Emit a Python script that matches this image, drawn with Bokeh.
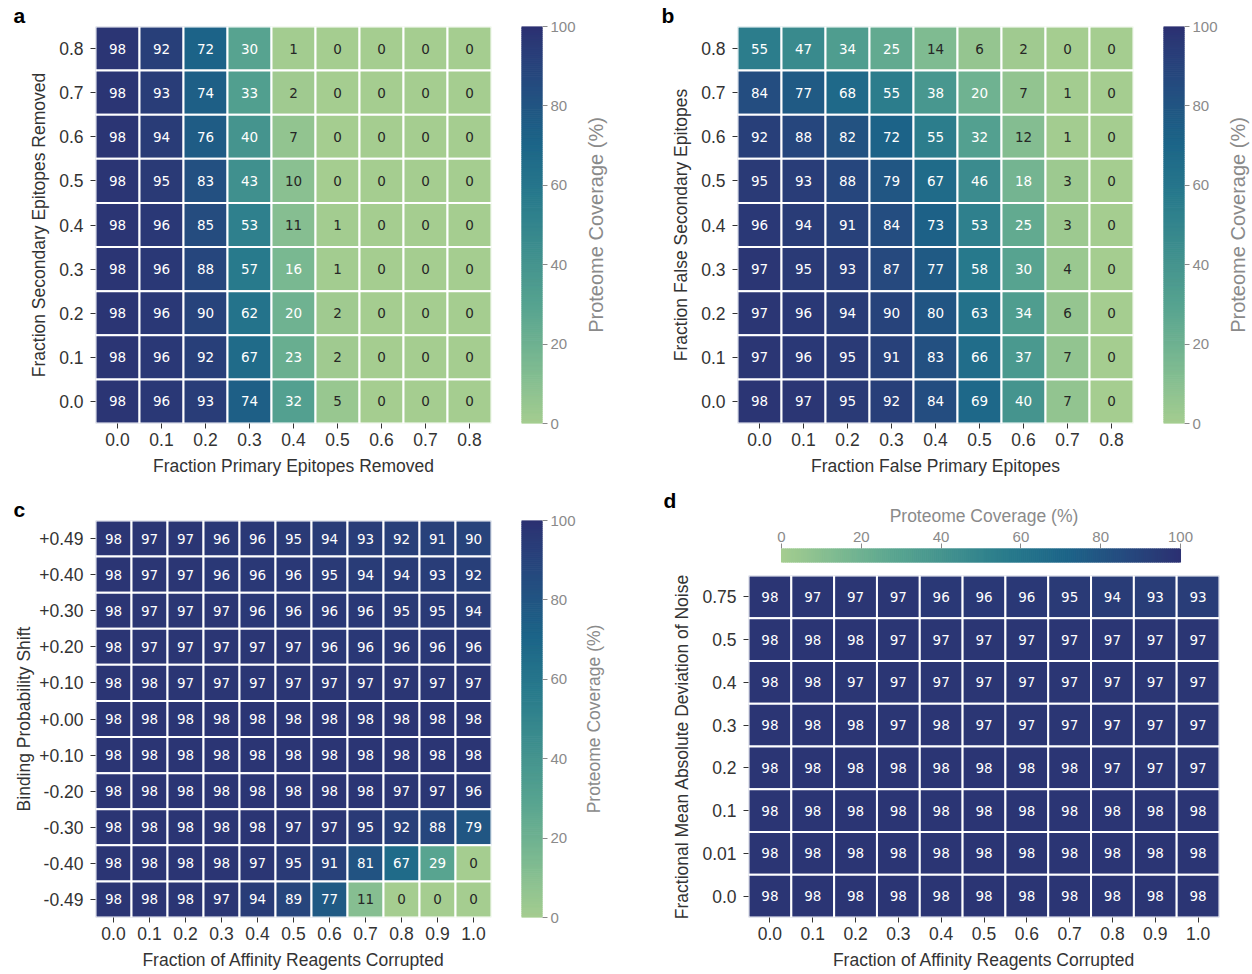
import numpy as np
from bokeh.core.properties import value
from bokeh.embed import file_html
from bokeh.layouts import column, row
from bokeh.models import ColumnDataSource, FixedTicker, LinearColorMapper
from bokeh.plotting import figure
from bokeh.resources import INLINE

# ---------------------------------------------------------------- data
A_X = ["0.0", "0.1", "0.2", "0.3", "0.4", "0.5", "0.6", "0.7", "0.8"]
A_Y = ["0.8", "0.7", "0.6", "0.5", "0.4", "0.3", "0.2", "0.1", "0.0"]  # top -> bottom
A_VALUES = [
    [98, 92, 72, 30, 1, 0, 0, 0, 0],
    [98, 93, 74, 33, 2, 0, 0, 0, 0],
    [98, 94, 76, 40, 7, 0, 0, 0, 0],
    [98, 95, 83, 43, 10, 0, 0, 0, 0],
    [98, 96, 85, 53, 11, 1, 0, 0, 0],
    [98, 96, 88, 57, 16, 1, 0, 0, 0],
    [98, 96, 90, 62, 20, 2, 0, 0, 0],
    [98, 96, 92, 67, 23, 2, 0, 0, 0],
    [98, 96, 93, 74, 32, 5, 0, 0, 0],
]

B_X = A_X
B_Y = A_Y
B_VALUES = [
    [55, 47, 34, 25, 14, 6, 2, 0, 0],
    [84, 77, 68, 55, 38, 20, 7, 1, 0],
    [92, 88, 82, 72, 55, 32, 12, 1, 0],
    [95, 93, 88, 79, 67, 46, 18, 3, 0],
    [96, 94, 91, 84, 73, 53, 25, 3, 0],
    [97, 95, 93, 87, 77, 58, 30, 4, 0],
    [97, 96, 94, 90, 80, 63, 34, 6, 0],
    [97, 96, 95, 91, 83, 66, 37, 7, 0],
    [98, 97, 95, 92, 84, 69, 40, 7, 0],
]

C_X = ["0.0", "0.1", "0.2", "0.3", "0.4", "0.5", "0.6", "0.7", "0.8", "0.9", "1.0"]
C_Y = ["+0.49", "+0.40", "+0.30", "+0.20", "+0.10", "+0.00",
       "+0.10", "-0.20", "-0.30", "-0.40", "-0.49"]
C_VALUES = [
    [98, 97, 97, 96, 96, 95, 94, 93, 92, 91, 90],
    [98, 97, 97, 96, 96, 96, 95, 94, 94, 93, 92],
    [98, 97, 97, 97, 96, 96, 96, 96, 95, 95, 94],
    [98, 97, 97, 97, 97, 97, 96, 96, 96, 96, 96],
    [98, 98, 97, 97, 97, 97, 97, 97, 97, 97, 97],
    [98, 98, 98, 98, 98, 98, 98, 98, 98, 98, 98],
    [98, 98, 98, 98, 98, 98, 98, 98, 98, 98, 98],
    [98, 98, 98, 98, 98, 98, 98, 98, 97, 97, 96],
    [98, 98, 98, 98, 98, 97, 97, 95, 92, 88, 79],
    [98, 98, 98, 98, 97, 95, 91, 81, 67, 29, 0],
    [98, 98, 98, 97, 94, 89, 77, 11, 0, 0, 0],
]

D_X = C_X
D_Y = ["0.75", "0.5", "0.4", "0.3", "0.2", "0.1", "0.01", "0.0"]
D_VALUES = [
    [98, 97, 97, 97, 96, 96, 96, 95, 94, 93, 93],
    [98, 98, 98, 97, 97, 97, 97, 97, 97, 97, 97],
    [98, 98, 97, 97, 97, 97, 97, 97, 97, 97, 97],
    [98, 98, 98, 97, 98, 97, 97, 97, 97, 97, 97],
    [98, 98, 98, 98, 98, 98, 98, 98, 97, 97, 97],
    [98, 98, 98, 98, 98, 98, 98, 98, 98, 98, 98],
    [98, 98, 98, 98, 98, 98, 98, 98, 98, 98, 98],
    [98, 98, 98, 98, 98, 98, 98, 98, 98, 98, 98],
]

CBAR_TICKS = [0, 20, 40, 60, 80, 100]
CBAR_LABEL = "Proteome Coverage (%)"

# ---------------------------------------------------------------- colours
CREST = ["#a5cd90", "#7dba91", "#59a590", "#40908e",
         "#287a8c", "#1c6488", "#254b7f", "#2c3172"]
TEXT = "#333333"
CB_GRAY = "#8a8a8a"
FONT = "Liberation Sans"


def _rgb(h):
    return tuple(int(h[i:i + 2], 16) for i in (1, 3, 5))


STOPS = [_rgb(h) for h in CREST]


def crest(t):
    t = min(max(t, 0.0), 1.0)
    pos = t * (len(STOPS) - 1)
    i = min(int(pos), len(STOPS) - 2)
    f = pos - i
    a, b = STOPS[i], STOPS[i + 1]
    return "#%02x%02x%02x" % tuple(round(a[k] + (b[k] - a[k]) * f) for k in range(3))


PALETTE = [crest(i / 255) for i in range(256)]
MAPPER = LinearColorMapper(palette=PALETTE, low=0, high=100)


def annot_color(v):
    def lin(c):
        c /= 255
        return c / 12.92 if c <= 0.03928 else ((c + 0.055) / 1.055) ** 2.4
    r, g, b = _rgb(crest(v / 100))
    lum = 0.2126 * lin(r) + 0.7152 * lin(g) + 0.0722 * lin(b)
    return "#262626" if lum > 0.408 else "#ffffff"


def style_axis(ax, tick_color=TEXT, label_color=TEXT, size="17.5px", title_size="17.5px"):
    ax.axis_line_color = None
    ax.major_tick_line_color = tick_color
    ax.major_tick_out = 5
    ax.major_tick_in = 0
    ax.minor_tick_line_color = None
    ax.major_label_text_font = FONT
    ax.major_label_text_font_size = size
    ax.major_label_text_color = label_color
    ax.axis_label_text_font = FONT
    ax.axis_label_text_font_style = "normal"
    ax.axis_label_text_font_size = title_size
    ax.axis_label_text_color = label_color


def panel_letter(p, letter, offset, standoff=0):
    p.title.text = letter
    p.title.align = "left"
    p.title.offset = offset
    p.title.standoff = standoff
    p.title.text_font = FONT
    p.title.text_font_style = "bold"
    p.title.text_font_size = "21px"
    p.title.text_color = "black"


def bare_figure(**kw):
    p = figure(toolbar_location=None, tools="", output_backend="svg", **kw)
    p.grid.visible = False
    p.outline_line_color = None
    p.background_fill_color = "white"
    p.border_fill_color = "white"
    return p


def heatmap(vals, xl, yl, xtitle, ytitle, frame_w, frame_h,
            left, right, top, bottom, ylabel_standoff):
    nr, nc = len(vals), len(vals[0])
    xs, ys, vs, ts, tcs = [], [], [], [], []
    for r, rv in enumerate(vals):
        for c, v in enumerate(rv):
            xs.append(c)
            ys.append(nr - 1 - r)
            vs.append(v)
            ts.append(str(v))
            tcs.append(annot_color(v))
    src = ColumnDataSource(dict(x=xs, y=ys, v=vs, t=ts, tc=tcs))

    p = bare_figure(frame_width=frame_w, frame_height=frame_h,
                    min_border_left=left, min_border_right=right,
                    min_border_top=top, min_border_bottom=bottom,
                    x_range=(-0.5, nc - 0.5), y_range=(-0.5, nr - 0.5))
    p.rect(x="x", y="y", width=1, height=1, source=src,
           fill_color={"field": "v", "transform": MAPPER},
           line_color="white", line_width=2)
    p.text(x="x", y="y", text="t", source=src, text_color="tc",
           text_align="center", text_baseline="middle",
           text_font=value("DejaVu Sans"), text_font_size="13.5px")

    p.xaxis.ticker = FixedTicker(ticks=list(range(nc)))
    p.xaxis.major_label_overrides = {i: s for i, s in enumerate(xl)}
    p.yaxis.ticker = FixedTicker(ticks=list(range(nr)))
    p.yaxis.major_label_overrides = {nr - 1 - i: s for i, s in enumerate(yl)}
    p.xaxis.axis_label = xtitle
    p.yaxis.axis_label = ytitle
    style_axis(p.xaxis[0])
    style_axis(p.yaxis[0])
    p.xaxis.major_label_standoff = 4
    p.xaxis.axis_label_standoff = 7
    p.yaxis.major_label_standoff = 7
    p.yaxis.axis_label_standoff = ylabel_standoff
    return p


def gradient_source():
    edges = np.linspace(0, 100, 201)
    mids = (edges[:-1] + edges[1:]) / 2
    return ColumnDataSource(dict(lo=edges[:-1], hi=edges[1:],
                                 c=[crest(m / 100) for m in mids]))


CB_RIGHT = 37   # room for the colour-bar tick labels


def vcolorbar(frame_h, top, bottom):
    """Vertical colour bar: gradient strip with its value axis on the right."""
    cb = bare_figure(frame_width=21, frame_height=frame_h,
                     min_border_left=0, min_border_right=CB_RIGHT,
                     min_border_top=top, min_border_bottom=bottom,
                     x_range=(0, 1), y_range=(0, 100),
                     x_axis_location=None, y_axis_location="right")
    cb.quad(left=0, right=1, bottom="lo", top="hi", source=gradient_source(),
            fill_color="c", line_color="c", line_width=1)
    ax = cb.yaxis[0]
    ax.ticker = FixedTicker(ticks=CBAR_TICKS)
    style_axis(ax, tick_color=CB_GRAY, label_color=CB_GRAY, size="15px")
    ax.major_label_standoff = 3
    return cb


def vcolorbar_title(frame_h, top, bottom, left, right, size, standoff=0):
    """Rotated colour-bar title, drawn as the label of an otherwise empty axis."""
    t = bare_figure(frame_width=1, frame_height=frame_h,
                    min_border_left=left, min_border_right=right,
                    min_border_top=top, min_border_bottom=bottom,
                    x_range=(0, 1), y_range=(0, 1), x_axis_location=None)
    ax = t.yaxis[0]
    ax.ticker = FixedTicker(ticks=[])
    style_axis(ax, tick_color=None, label_color=CB_GRAY, title_size=size)
    ax.major_tick_out = 0
    ax.major_label_standoff = 0
    ax.axis_label = CBAR_LABEL
    ax.axis_label_standoff = standoff
    return t


def hcolorbar(frame_w, left, right, top, bottom, x_lo, x_hi):
    cb = bare_figure(frame_width=frame_w, frame_height=14,
                     min_border_left=left, min_border_right=right,
                     min_border_top=top, min_border_bottom=bottom,
                     x_range=(x_lo, x_hi), y_range=(0, 1),
                     x_axis_location="above", y_axis_location=None)
    cb.quad(left="lo", right="hi", bottom=0, top=1, source=gradient_source(),
            fill_color="c", line_color="c", line_width=1)
    ax = cb.xaxis[0]
    ax.ticker = FixedTicker(ticks=CBAR_TICKS)
    ax.axis_label = CBAR_LABEL
    style_axis(ax, tick_color=CB_GRAY, label_color=CB_GRAY, size="15px")
    ax.major_label_standoff = 2
    ax.axis_label_standoff = 3
    return cb


# ---------------------------------------------------------------- panels
fa = heatmap(A_VALUES, A_X, A_Y, "Fraction Primary Epitopes Removed",
             "Fraction Secondary Epitopes Removed",
             396, 397, 95, 30, 26, 57, 7)
panel_letter(fa, "a", -82)
cba = vcolorbar(397, 26, 57)
ta = vcolorbar_title(397, 13, 70, 27, 33, "20px")

fb = heatmap(B_VALUES, B_X, B_Y, "Fraction False Primary Epitopes",
             "Fraction False Secondary Epitopes",
             396, 397, 97, 30, 26, 57, 7)
panel_letter(fb, "b", -76)
cbb = vcolorbar(397, 26, 57)
tb = vcolorbar_title(397, 13, 70, 27, 3, "20px")

fc = heatmap(C_VALUES, C_X, C_Y, "Fraction of Affinity Reagents Corrupted",
             "Binding Probability Shift",
             396, 397, 95, 30, 40, 57, 2)
panel_letter(fc, "c", -82)
cbc = vcolorbar(397, 40, 57)
tc = vcolorbar_title(397, 40, 57, 24, 36, "17.5px")

# horizontal colour bar shares the heatmap's frame; the bar itself spans 0..100
D_FRAME_W = 471
cbd = hcolorbar(D_FRAME_W, 108, 33, 68, 5, -8.27, 109.77)
panel_letter(cbd, "d", -85, standoff=-18)
fd = heatmap(D_VALUES, D_X, D_Y, "Fraction of Affinity Reagents Corrupted",
             "Fractional Mean Absolute Deviation of Noise",
             D_FRAME_W, 342, 108, 33, 8, 57, 7)

layout = column(row(fa, cba, ta, fb, cbb, tb),
                row(fc, cbc, tc, column(cbd, fd)))

open("out.html", "w").write(file_html(layout, INLINE))
